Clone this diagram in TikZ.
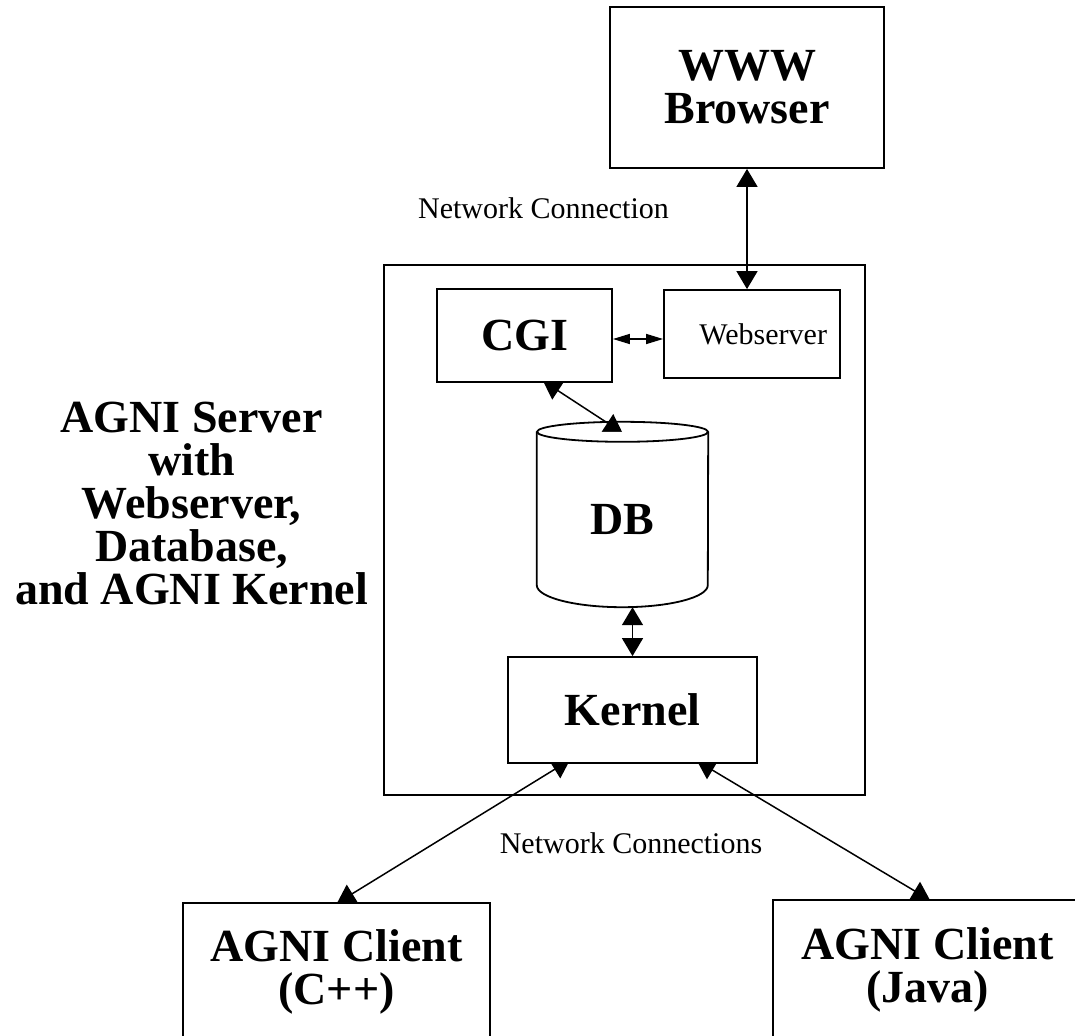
\documentclass[tikz,border=0pt]{standalone}
\usepackage{fontspec}
\setmainfont{Liberation Serif}
\usetikzlibrary{arrows.meta}
\usetikzlibrary{calc}
\usetikzlibrary{backgrounds}

\tikzset{
    blockbox/.style={draw, line width=1.8pt, fill=white, inner sep=0pt},
    biglabel/.style={font=\fontsize{46}{43}\selectfont\bfseries, align=center},
    smalllabel/.style={font=\fontsize{30}{34}\selectfont},
    netarrow/.style={line width=1.5pt, {Triangle[width=21pt,length=18pt]}-{Triangle[width=21pt,length=18pt]}},
    tinyarrow/.style={line width=1.5pt, {Triangle[width=10pt,length=17pt]}-{Triangle[width=10pt,length=17pt]}},
}

\begin{document}
\begin{tikzpicture}[x=1pt, y=-1pt]
        \clip (0,0) rectangle (1075,1035);

        % boxes
        \node[blockbox, biglabel, minimum width=274pt, minimum height=161pt] (browser) at (747,87.5) {WWW\\Browser};
        \node[blockbox, biglabel, minimum width=175pt, minimum height=93pt] (cgi) at (524.5,335.5) {CGI};
        \node[blockbox, smalllabel, minimum width=176pt, minimum height=88pt, text width=150pt, align=right] (ws) at (752,334) {Webserver};
        \node[biglabel, minimum width=171pt, minimum height=175pt, inner sep=0pt] (db) at (622.5,519.5) {DB};
        \node[blockbox, biglabel, minimum width=249pt, minimum height=106pt] (kernel) at (632.5,710) {Kernel};
        \node[blockbox, biglabel, minimum width=307pt, minimum height=137pt] (cpp) at (336.5,971.5) {AGNI Client\\(C++)};
        \node[blockbox, biglabel, minimum width=309pt, minimum height=140pt] (java) at (927.5,970) {AGNI Client\\(Java)};

        % labels
        \node[biglabel] (srvlabel) at (191.5,503.5) {AGNI Server\\with\\Webserver,\\Database,\\and AGNI Kernel};
        \node[smalllabel, anchor=base] (netone) at (543.5,218) {Network Connection};
        \node[smalllabel, anchor=base] (nettwo) at (631,853) {Network Connections};

        \begin{pgfonlayer}{background}
        \node[draw, line width=1.8pt, minimum width=481pt, minimum height=530pt] (server) at (624.5,530) {};

        \draw[netarrow] (browser.south) -- (browser.south |- ws.north);
        \draw[tinyarrow] ($(cgi.east)+(0,3.5)$) -- ($(cgi.east -| ws.west)+(0,3.5)$);
        \draw[netarrow] ($(cgi.south)+(18.5,-2)$) -- ($(db.north)+(0,1)$);
        \draw[netarrow] (kernel.north |- db.south) -- (kernel.north);
        \draw[netarrow] ($(kernel.south)+(-62.5,-4)$) -- ($(cpp.north)+(0.5,1)$);
        \draw[netarrow] ($(kernel.south)+(64.5,-3)$) -- ($(java.north)+(2.5,1)$);

        % the DB cylinder
        \fill[white] (db.north west) -- (db.north east) -- ($(db.south east)+(0,-22)$)
            arc[start angle=0, end angle=-180, x radius=85.5pt, y radius=22pt] -- cycle;
        \draw[line width=1.8pt] (db.north) ellipse [x radius=85.5pt, y radius=10pt];
        \draw[line width=1.8pt] (db.north west) -- ($(db.south west)+(0,-22)$)
            arc[start angle=180, end angle=360, x radius=85.5pt, y radius=22pt] -- (db.north east);
        \end{pgfonlayer}
\end{tikzpicture}
\end{document}
